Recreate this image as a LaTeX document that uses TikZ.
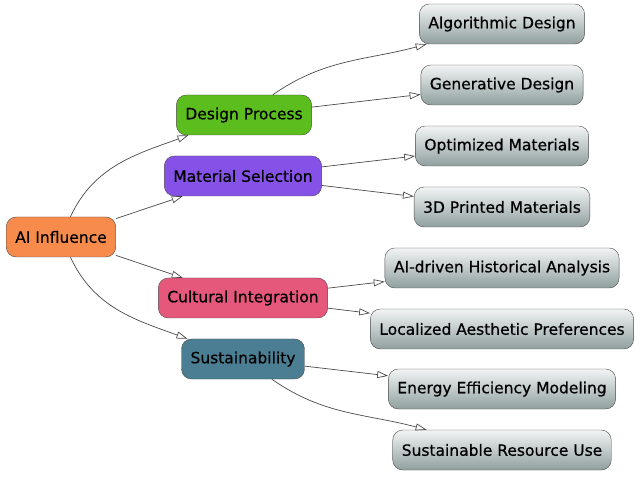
\documentclass[tikz,border=0pt]{standalone}
\usepackage{fontspec}
\setmainfont{DejaVu Sans}[BoldFont={DejaVu Sans}, BoldFeatures={FakeBold=0.6}]
\definecolor{aiorange}{HTML}{F68B4C}
\definecolor{dpgreen}{HTML}{5CBD1E}
\definecolor{mspurple}{HTML}{8551E6}
\definecolor{cipink}{HTML}{E5587C}
\definecolor{suteal}{HTML}{4B7E92}
\definecolor{leaftop}{HTML}{F2F4F4}
\definecolor{leafbot}{HTML}{909F9F}
\definecolor{edgegray}{HTML}{4A4A4A}
\usepackage{tikz}
\usetikzlibrary{arrows.meta}
\tikzset{
  box/.style={draw=edgegray, rounded corners=10pt, minimum height=40pt,
    inner xsep=9pt, font=\fontsize{15.5}{17}\selectfont\bfseries},
  leaf/.style={box, top color=leaftop, bottom color=leafbot},
  link/.style={draw=edgegray, line width=0.7pt,
    -{Triangle[open, length=11pt, width=7pt]}}
}

\begin{document}
\begin{tikzpicture}[x=1pt, y=1pt]
  \useasboundingbox (0,0) rectangle (640,477);

  % Root and branches
  \node[box, fill=aiorange] (ai) at (61,240) {AI Influence};
  \node[box, fill=dpgreen] (dp) at (244,362) {Design Process};
  \node[box, fill=mspurple] (ms) at (243,301) {Material Selection};
  \node[box, fill=cipink] (ci) at (243,179) {Cultural Integration};
  \node[box, fill=suteal] (su) at (243,118) {Sustainability};

  % Leaves
  \node[leaf] (ad) at (502,453) {Algorithmic Design};
  \node[leaf] (gd) at (502,392) {Generative Design};
  \node[leaf] (om) at (502,331) {Optimized Materials};
  \node[leaf] (pm) at (502,270) {3D Printed Materials};
  \node[leaf] (ha) at (502,209) {AI-driven Historical Analysis};
  \node[leaf] (la) at (502,148) {Localized Aesthetic Preferences};
  \node[leaf] (ee) at (502,88) {Energy Efficiency Modeling};
  \node[leaf] (sr) at (502,27) {Sustainable Resource Use};

  % Connectors
  \draw[link] (ai) to[out=65, in=200] (dp);
  \draw[link] (ai) -- (ms);
  \draw[link] (ai) -- (ci);
  \draw[link] (ai) to[out=-65, in=160] (su);

  \draw[link] (dp) to[out=35, in=195] (ad);
  \draw[link] (dp) -- (gd);
  \draw[link] (ms) -- (om);
  \draw[link] (ms) -- (pm);
  \draw[link] (ci) -- (ha);
  \draw[link] (ci) -- (la);
  \draw[link] (su) -- (ee);
  \draw[link] (su) to[out=-35, in=165] (sr);
\end{tikzpicture}
\end{document}
